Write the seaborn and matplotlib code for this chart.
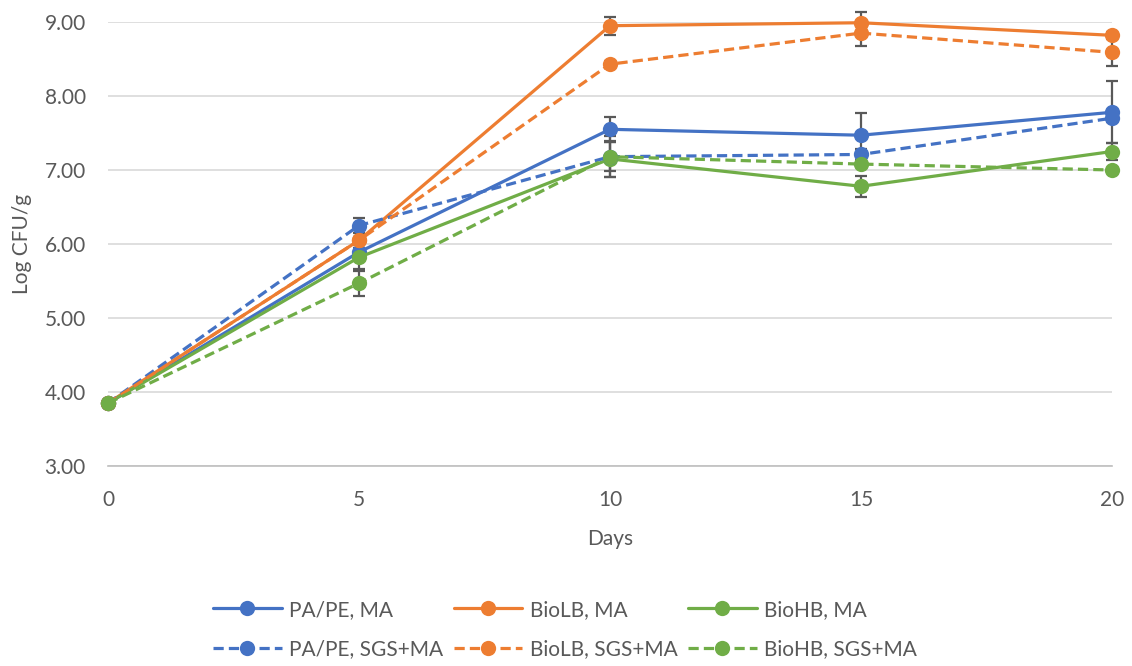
import matplotlib
matplotlib.use("Agg")
import matplotlib.pyplot as plt
import seaborn as sns
import pandas as pd
import numpy as np

days = [0, 5, 10, 15, 20]
labels = ["PA/PE, MA", "BioLB, MA", "BioHB, MA",
          "PA/PE, SGS+MA", "BioLB, SGS+MA", "BioHB, SGS+MA"]
papa_ma = [3.85, 5.89, 7.55, 7.47, 7.78]
biolb_ma = [3.85, 6.05, 8.95, 8.99, 8.82]
biohb_ma = [3.85, 5.82, 7.15, 6.78, 7.25]
papa_sgs = [3.85, 6.25, 7.18, 7.21, 7.70]
biolb_sgs = [3.85, 6.05, 8.43, 8.85, 8.59]
biohb_sgs = [3.85, 5.47, 7.18, 7.08, 7.00]
papa_ma_err = [0.0, 0.05, 0.17, 0.30, 0.42]
biolb_ma_err = [0.0, 0.05, 0.12, 0.15, 0.05]
biohb_ma_err = [0.0, 0.16, 0.24, 0.14, 0.12]
papa_sgs_err = [0.0, 0.10, 0.20, 0.07, 0.05]
biolb_sgs_err = [0.0, 0.05, 0.04, 0.17, 0.19]
biohb_sgs_err = [0.0, 0.17, 0.28, 0.04, 0.03]

series = [papa_ma, biolb_ma, biohb_ma, papa_sgs, biolb_sgs, biohb_sgs]
errors = [papa_ma_err, biolb_ma_err, biohb_ma_err, papa_sgs_err, biolb_sgs_err, biohb_sgs_err]
colors = ["#4472C4", "#ED7D31", "#70AD47"] * 2
dashed = [False] * 3 + [True] * 3

sns.set_style("white")
plt.rcParams["font.family"] = ["Lato", "DejaVu Sans"]
TXT = "#595959"
FS = 15

fig = plt.figure(figsize=(11.32, 6.66), dpi=100)
ax = fig.add_axes([108 / 1132, 1 - 466 / 666, (1112 - 108) / 1132, (466 - 22) / 666])

handles = []
for vals, err, c, dsh, lab in zip(series, errors, colors, dashed, labels):
    df = pd.DataFrame({"Days": days, "val": vals})
    kw = dict(color=c, lw=2.3, marker="o", markersize=11, markeredgewidth=0)
    if dsh:
        kw["dashes"] = (3.2, 1.6)
    ax.errorbar(days, vals, yerr=err, fmt="none", ecolor=TXT, elinewidth=1.6,
                capsize=4.5, capthick=1.6, zorder=2, clip_on=False)
    sns.lineplot(data=df, x="Days", y="val", ax=ax, label=lab, zorder=3,
                 clip_on=False, legend=False, **kw)
    h, = ax.plot([], [], **kw)
    handles.append(h)

ax.set_xlim(0, 20)
ax.set_ylim(3, 9)
ax.set_xticks(days)
yt = np.arange(3, 9.01, 1)
ax.set_yticks(yt)
ax.set_yticklabels([f"{v:.2f}" for v in yt])
ax.yaxis.grid(True, color="#D9D9D9", lw=1.2)
ax.set_axisbelow(True)
for s in ["top", "right", "left"]:
    ax.spines[s].set_visible(False)
ax.spines["bottom"].set_color("#BFBFBF")
ax.spines["bottom"].set_linewidth(1.2)
ax.tick_params(axis="y", length=0, labelsize=FS, colors=TXT, pad=16)
ax.tick_params(axis="x", length=0, labelsize=FS, colors=TXT, pad=17)
ax.set_xlabel("Days", fontsize=FS, color=TXT, labelpad=14)
ax.set_ylabel("Log CFU/g", fontsize=FS, color=TXT, labelpad=9)

order = [0, 3, 1, 4, 2, 5]
fig.legend([handles[i] for i in order], [labels[i] for i in order],
           loc="center left", bbox_to_anchor=(213 / 1132, 1 - 629.5 / 666), ncol=3,
           frameon=False, fontsize=FS, labelcolor=TXT, handlelength=3.3,
           columnspacing=0.5, labelspacing=0.95, handletextpad=0.35,
           borderpad=0, borderaxespad=0)

fig.savefig("out.png", dpi=100)
